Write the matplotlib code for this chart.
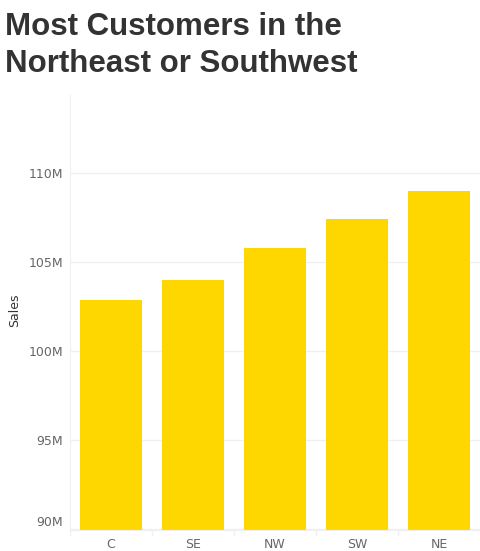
import matplotlib.pyplot as plt
from matplotlib.ticker import FuncFormatter

regions = ["C", "SE", "NW", "SW", "NE"]
sales = [102.87e6, 103.99e6, 105.79e6, 107.42e6, 108.99e6]
y_ticks = [90e6, 95e6, 100e6, 105e6, 110e6]

bar_color = "#FFD700"
grid_color = "#F0F0F0"
tick_color = "#666666"

fig = plt.figure(figsize=(4.8, 5.51), dpi=100)
ax = fig.add_axes([70 / 480, 21 / 551, 410 / 480, 435 / 551])

x = list(range(len(regions)))
ax.bar(x, sales, width=0.755, color=bar_color, zorder=2)

ax.set_xlim(-0.5, len(regions) - 0.5)
ax.set_ylim(89.95e6, 114.4e6)
ax.set_yticks(y_ticks)
ax.yaxis.set_major_formatter(FuncFormatter(lambda v, p: f"{v / 1e6:.0f}M"))
ax.set_xticks(x)
ax.set_xticklabels(regions)

ax.grid(axis="y", color=grid_color, linewidth=1, zorder=0)
for s in ["top", "right"]:
    ax.spines[s].set_visible(False)
ax.spines["left"].set_color(grid_color)
ax.spines["bottom"].set_color(grid_color)

ax.tick_params(axis="y", length=0, pad=5, labelsize=9, labelcolor=tick_color)
ax.tick_params(axis="x", length=0, pad=6, labelsize=9, labelcolor=tick_color)

# lift the bottom tick label a little, as in the reference
ax.get_yticklabels()[0].set_va("bottom")

# small separators between categories below the axis
for b in range(len(regions)):
    ax.plot([b - 0.5, b - 0.5], [0, -0.012], transform=ax.get_xaxis_transform(),
            color=grid_color, linewidth=1, clip_on=False)

fig.text(15 / 480, 1 - 310 / 551, "Sales", fontsize=9, color="#333333",
         rotation=90, ha="center", va="center")

fig.text(5 / 480, 1 - 12 / 551, "Most Customers in the\nNortheast or Southwest",
         fontsize=22.5, fontweight="bold", color="#333333", family="Liberation Sans",
         va="top", ha="left", linespacing=1.3)

fig.savefig("out.png", dpi=100)
